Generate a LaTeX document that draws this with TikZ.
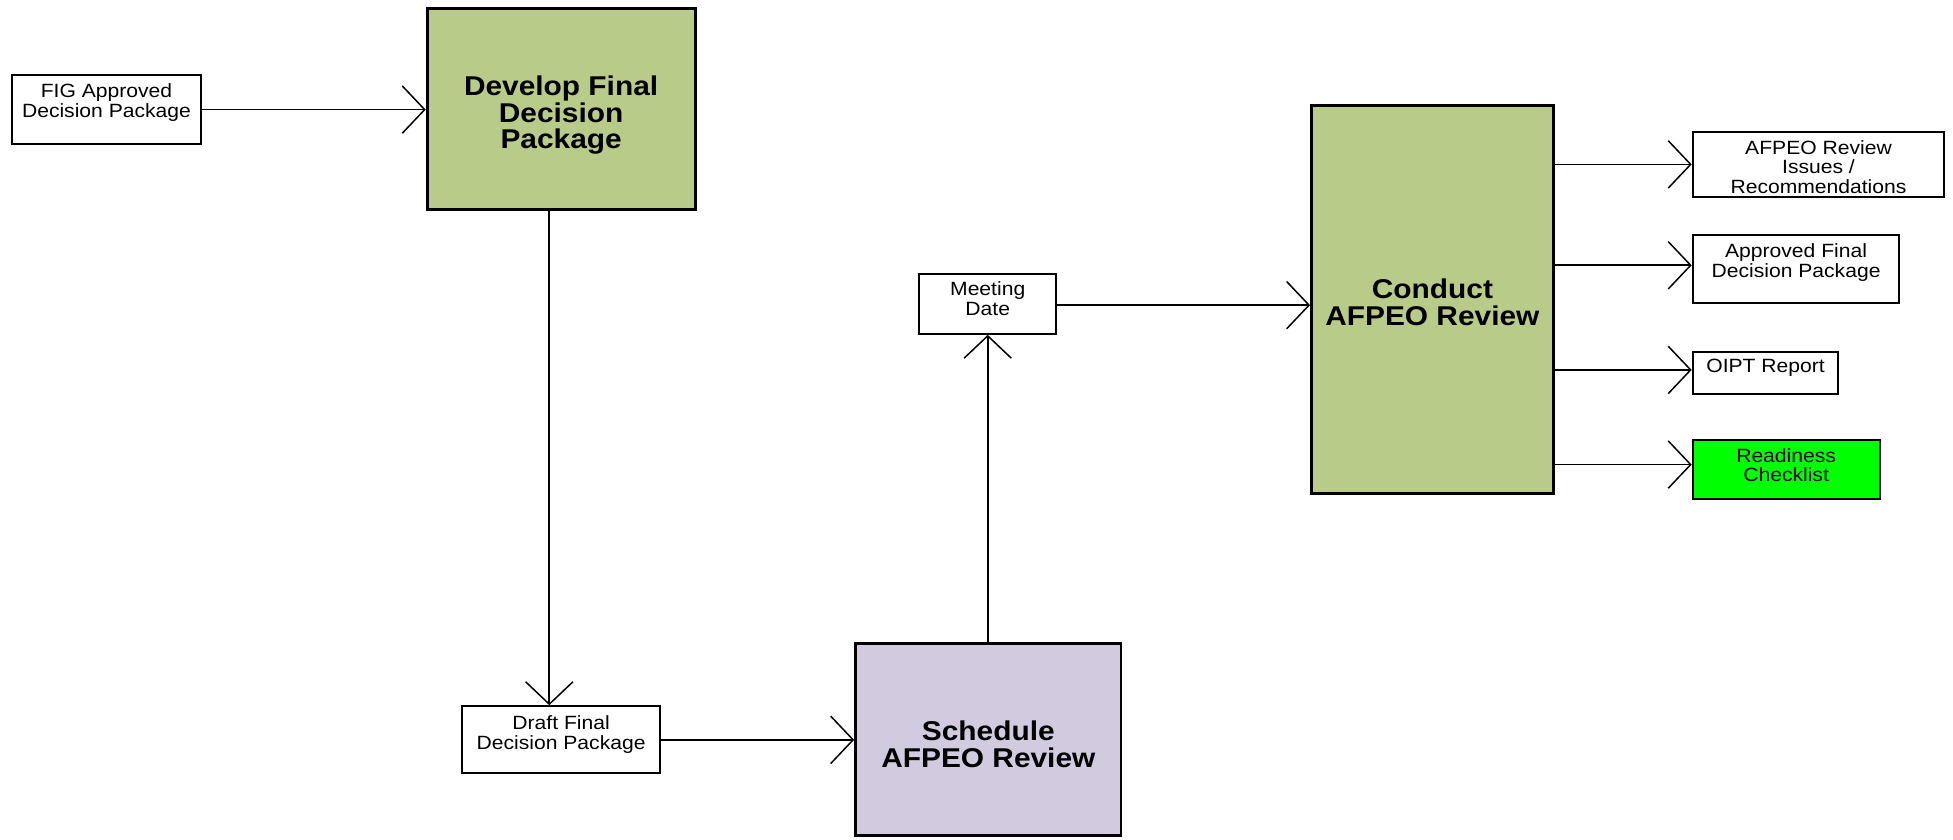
\documentclass[tikz,border=0pt]{standalone}
\usepackage{fontspec}
\setmainfont{Liberation Sans}[FakeStretch=1.1]
\usetikzlibrary{arrows.meta}
\definecolor{procgreen}{RGB}{184,203,137}
\definecolor{schedpurple}{RGB}{210,202,222}
\definecolor{readygreen}{RGB}{0,255,0}
\begin{document}
\begin{tikzpicture}[x=1pt,y=-1pt,
  box/.style={draw, line width=1.6pt, rectangle, inner sep=0pt, fill=white},
  bigbox/.style={draw, line width=2.4pt, rectangle, inner sep=0pt},
  txt/.style={align=center, inner sep=0pt, font=\fontsize{15.4}{15.8}\selectfont},
  bigtxt/.style={align=center, inner sep=0pt, font=\fontsize{21.8}{21.4}\selectfont\bfseries},
  arr/.style={line width=1.4pt, -{Straight Barb[length=18pt,width=38pt,line width=1.2pt]}}]
\useasboundingbox (0,0) rectangle (1568,674);
\fill[white] (0,0) rectangle (1568,674);

% boxes
\node[box, minimum width=151pt, minimum height=55pt] (fig) at (85.5,88) {};
\node[bigbox, fill=procgreen, minimum width=215pt, minimum height=161pt] (dev) at (450.5,87.5) {};
\node[box, minimum width=159pt, minimum height=54pt] (draft) at (450.5,594) {};
\node[bigbox, fill=schedpurple, minimum width=213pt, minimum height=154pt] (sched) at (793.5,594) {};
\node[box, minimum width=110pt, minimum height=48pt] (meet) at (793,244) {};
\node[bigbox, fill=procgreen, minimum width=194pt, minimum height=311pt] (cond) at (1150,240.5) {};
\node[box, minimum width=202pt, minimum height=52pt] (o1) at (1460,132) {};
\node[box, minimum width=166pt, minimum height=54pt] (o2) at (1442,216) {};
\node[box, minimum width=117pt, minimum height=33pt] (o3) at (1417.5,299.5) {};
\node[box, fill=readygreen, minimum width=150pt, minimum height=48pt] (o4) at (1434,377) {};

% texts
\node[txt] (fig-t) at ([yshift=5.6pt]fig.center) {FIG Approved\\Decision Package};
\node[bigtxt] (dev-t) at ([yshift=-5pt]dev.center) {Develop Final\\Decision\\Package};
\node[txt] (draft-t) at ([yshift=4.4pt]draft.center) {Draft Final\\Decision Package};
\node[bigtxt] (sched-t) at ([yshift=-3.5pt]sched.center) {Schedule\\AFPEO Review};
\node[txt] (meet-t) at ([yshift=4pt]meet.center) {Meeting\\Date};
\node[bigtxt] (cond-t) at ([yshift=-2pt]cond.center) {Conduct\\AFPEO Review};
\node[txt] (o1-t) at ([yshift=-2pt]o1.center) {AFPEO Review\\Issues /\\Recommendations};
\node[txt] (o2-t) at ([yshift=5.4pt]o2.center) {Approved Final\\Decision Package};
\node[txt] (o3-t) at ([yshift=3.9pt]o3.center) {OIPT Report};
\node[txt] (o4-t) at ([yshift=3.5pt]o4.center) {Readiness\\Checklist};

% connectors
\draw[arr] (fig.east) -- (fig.east -| dev.west);
\draw[arr] ([xshift=-9.5pt]dev.south) -- ([xshift=-9.5pt]dev.south |- draft.north);
\draw[arr] (draft.east) -- (draft.east -| sched.west);
\draw[arr] (meet.south |- sched.north) -- (meet.south);
\draw[arr] ([yshift=-1pt]meet.east) -- ([yshift=-1pt]meet.east -| cond.west);
\draw[arr] (cond.east |- o1.west) -- (o1.west);
\draw[arr] ([yshift=3pt]o2.west -| cond.east) -- ([yshift=3pt]o2.west);
\draw[arr] ([yshift=2.5pt]o3.west -| cond.east) -- ([yshift=2.5pt]o3.west);
\draw[arr] ([yshift=4pt]o4.west -| cond.east) -- ([yshift=4pt]o4.west);
\end{tikzpicture}
\end{document}
